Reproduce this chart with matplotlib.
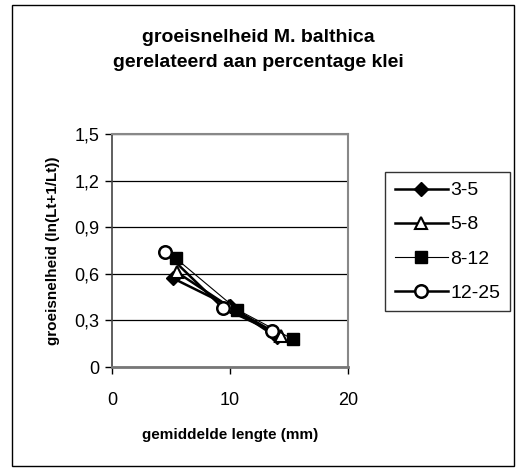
import matplotlib
matplotlib.use('Agg')
import matplotlib.pyplot as plt
from matplotlib.patches import Rectangle

plt.rcParams['font.family'] = ['Liberation Sans', 'DejaVu Sans']

labels = ['3-5', '5-8', '8-12', '12-25']
lengte_3_5 = [5.2, 10.0, 14.0]
groei_3_5 = [0.57, 0.39, 0.19]
lengte_5_8 = [5.5, 9.9, 14.3]
groei_5_8 = [0.61, 0.39, 0.20]
lengte_8_12 = [5.4, 10.6, 15.3]
groei_8_12 = [0.70, 0.37, 0.18]
lengte_12_25 = [4.5, 9.4, 13.6]
groei_12_25 = [0.74, 0.38, 0.23]

x_ticks = [0, 10, 20]
y_ticks = [0, 0.3, 0.6, 0.9, 1.2, 1.5]
y_ticklabels = ['0', '0,3', '0,6', '0,9', '1,2', '1,5']

fig = plt.figure(figsize=(5.17, 4.68), dpi=100)
ax = fig.add_axes([112/517, 101/468, 236/517, 233/468])

ax.plot(lengte_3_5, groei_3_5, color='black', lw=1.8, marker='D', ms=7,
        mfc='black', mec='black', label=labels[0])
ax.plot(lengte_5_8, groei_5_8, color='black', lw=1.8, marker='^', ms=9,
        mfc='white', mec='black', mew=1.5, label=labels[1])
ax.plot(lengte_8_12, groei_8_12, color='black', lw=0.8, marker='s', ms=9,
        mfc='black', mec='black', label=labels[2])
ax.plot(lengte_12_25, groei_12_25, color='black', lw=1.8, marker='o', ms=9,
        mfc='white', mec='black', mew=1.8, label=labels[3])

ax.set_xlim(0, 20)
ax.set_ylim(0, 1.5)
ax.set_xticks(x_ticks)
ax.set_yticks(y_ticks)
ax.set_yticklabels(y_ticklabels)
ax.tick_params(labelsize=13, length=5, width=1, direction='out')
ax.tick_params(axis='x', pad=13)
ax.tick_params(axis='y', pad=4)
ax.yaxis.grid(True, color='black', lw=0.9)
ax.set_axisbelow(True)
for s in ['top', 'right']:
    ax.spines[s].set_color('#888888')
    ax.spines[s].set_linewidth(1.5)
ax.spines['bottom'].set_color('#777777')
ax.spines['bottom'].set_linewidth(2)
ax.spines['left'].set_color('#444444')
ax.spines['left'].set_linewidth(1.2)

ax.set_xlabel('gemiddelde lengte (mm)', fontsize=11, fontweight='bold', labelpad=14)
ax.set_ylabel('groeisnelheid (ln(Lt+1/Lt))', fontsize=11, fontweight='bold', labelpad=10)

fig.text(0.5, 1 - 50/468, 'groeisnelheid M. balthica\ngerelateerd aan percentage klei',
         ha='center', va='center', fontsize=14, fontweight='bold', linespacing=1.55)

leg = ax.legend(loc='upper left', bbox_to_anchor=(385/517, 1 - 172/468),
                bbox_transform=fig.transFigure, fontsize=14, frameon=True,
                fancybox=False, handlelength=2.75, handletextpad=0.1,
                labelspacing=0.85, borderpad=0.5, borderaxespad=0)
leg.get_frame().set_edgecolor('black')
leg.get_frame().set_linewidth(1)

fig.patches.append(Rectangle((12/517, 2/468), 502/517, 461/468, transform=fig.transFigure,
                             fill=False, edgecolor='black', lw=1))

fig.savefig('out.png', dpi=100)
